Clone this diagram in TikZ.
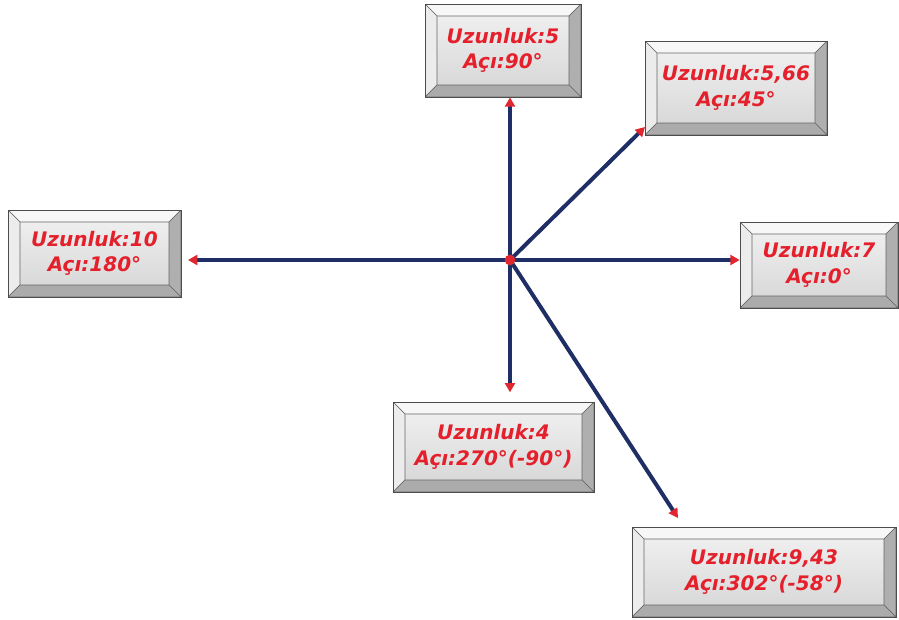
\documentclass[tikz,border=0pt]{standalone}
\usepackage{fontspec}
\setmainfont{DejaVu Sans}
\usetikzlibrary{arrows.meta,calc}

\definecolor{okrengi}{HTML}{1F2F66}
\definecolor{ucrengi}{HTML}{E0262E}
\definecolor{yazirengi}{HTML}{E3202B}

% bevel width of the boxes
\newcommand{\bev}{9pt}

\begin{document}
\begin{tikzpicture}[x=0.75pt,y=-0.75pt,
  box/.style={draw=black!70, line width=0.5pt, inner sep=0pt, align=center,
    top color=gray!10, bottom color=gray!33,
    font=\bfseries\itshape\fontsize{15}{19}\selectfont, text=yazirengi,
    path picture={
      \path (path picture bounding box.north west) coordinate (nw)
            (path picture bounding box.north east) coordinate (ne)
            (path picture bounding box.south west) coordinate (sw)
            (path picture bounding box.south east) coordinate (se);
      \begin{scope}[draw=black!60, line width=0.4pt]
        \filldraw[fill=gray!6] (nw) -- (ne) -- ($(ne)+(-\bev,-\bev)$) -- ($(nw)+(\bev,-\bev)$) -- cycle;
        \filldraw[fill=gray!15] (nw) -- ($(nw)+(\bev,-\bev)$) -- ($(sw)+(\bev,\bev)$) -- (sw) -- cycle;
        \filldraw[fill=gray!95!black!60] (ne) -- (se) -- ($(se)+(-\bev,\bev)$) -- ($(ne)+(-\bev,-\bev)$) -- cycle;
        \filldraw[fill=gray!80!black!55] (sw) -- (se) -- ($(se)+(-\bev,\bev)$) -- ($(sw)+(\bev,\bev)$) -- cycle;
      \end{scope}
    }},
  vec/.style={draw=okrengi, line width=3pt, -{Triangle[color=ucrengi,length=7pt,width=7.5pt]}},
  dot/.style={circle, fill=ucrengi, inner sep=0pt, minimum size=8pt}]

\useasboundingbox (0,0) rectangle (899,619);

\coordinate (o) at (510,260);

\node[box, minimum width=117pt, minimum height=69.75pt] (b90) at (503,50.5) {Uzunluk:5\\Açı:90°};
\node[box, minimum width=136.5pt, minimum height=70.5pt] (b45) at (736,88) {Uzunluk:5,66\\Açı:45°};
\node[box, minimum width=129.75pt, minimum height=65.25pt] (b180) at (94.5,253.5) {Uzunluk:10\\Açı:180°};
\node[box, minimum width=118.5pt, minimum height=64.5pt] (b0) at (819,265) {Uzunluk:7\\Açı:0°};
\node[box, minimum width=150.75pt, minimum height=67.5pt] (b270) at (493.5,447) {Uzunluk:4\\Açı:270°(-90°)};
\node[box, minimum width=198pt, minimum height=67.5pt] (b302) at (764,572) {Uzunluk:9,43\\Açı:302°(-58°)};

\coordinate (u45) at (645,127);
\coordinate (u302) at (678,518);

\draw[vec] (o) -- (b90.south -| o);
\draw[vec] (o) -- (u45);
\draw[vec, shorten >=5pt] (o) -- (b180.east |- o);
\draw[vec] (o) -- (b0.west |- o);
\draw[vec, shorten >=7pt] (o) -- (b270.north -| o);
\draw[vec] (o) -- (u302);

\node[dot] at (o) {};

\end{tikzpicture}
\end{document}
